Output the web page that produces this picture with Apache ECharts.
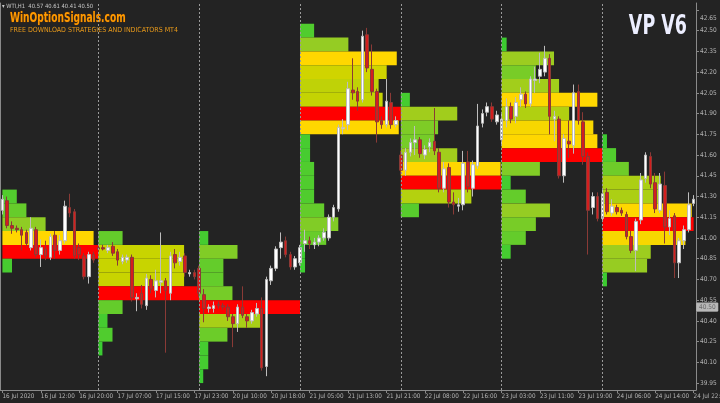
<!DOCTYPE html>
<html>
<head>
<meta charset="utf-8">
<script src="https://cdn.jsdelivr.net/npm/echarts@6/dist/echarts.min.js"></script>
<style>
html,body{margin:0;padding:0;background:#232323;}
#c{width:720px;height:403px;}
</style>
</head>
<body>
<div id="c"></div>
<script>
// ---------- DATA ----------
const xLabels = ['16 Jul 2020','16 Jul 12:00','16 Jul 20:00','17 Jul 07:00','17 Jul 15:00','17 Jul 23:00','20 Jul 10:00','20 Jul 18:00','21 Jul 05:00','21 Jul 13:00','21 Jul 21:00','22 Jul 08:00','22 Jul 16:00','23 Jul 03:00','23 Jul 11:00','23 Jul 19:00','24 Jul 06:00','24 Jul 14:00','24 Jul 22:00'];
const yTicks = [39.95,40.10,40.25,40.40,40.55,40.70,40.85,41.00,41.15,41.30,41.45,41.60,41.75,41.90,42.05,42.20,42.35,42.50,42.65];
const lastPrice = 40.50;
const headerText = 'WTI,H1  40.57 40.61 40.41 40.50';

// candles per day: [open, close, low, high]
const day1Candles = [
 [41.20,41.28,41.17,41.31],[41.27,41.09,41.07,41.30],[41.09,41.07,41.03,41.12],[41.07,41.06,41.04,41.09],
 [41.06,41.02,40.91,41.08],[41.04,40.96,40.94,41.06],[40.93,41.07,40.91,41.15],[41.06,40.88,40.86,41.08],
 [40.88,40.93,40.79,40.99],[40.92,40.87,40.84,40.98],[40.86,41.01,40.84,41.03],[41.02,40.91,40.85,41.05],
 [40.91,40.98,40.88,41.02],[40.98,41.23,40.96,41.27],[41.22,41.18,41.15,41.32],[41.19,40.87,40.85,41.21],
 [40.93,40.88,40.84,40.96],[40.87,40.72,40.70,40.89],[40.72,40.88,40.67,40.90],[40.88,40.84,40.82,40.90]
];
const day2Candles = [
 [40.93,40.92,40.90,40.95],[40.93,40.92,40.91,40.95],[40.91,40.93,40.89,40.95],[40.94,40.89,40.87,40.97],
 [40.90,40.84,40.80,40.92],[40.83,40.86,40.81,40.88],[40.84,40.86,40.82,40.88],[40.86,40.57,40.54,40.88],
 [40.56,40.57,40.47,40.60],[40.60,40.52,40.49,40.66],[40.51,40.71,40.48,40.74],[40.70,40.63,40.60,40.73],
 [40.62,40.69,40.57,40.77],[40.68,40.69,40.60,41.04],[40.69,40.62,40.17,40.71],[40.60,40.87,40.55,40.90],
 [40.88,40.82,40.78,40.92],[40.83,40.86,40.80,40.90],[40.87,40.75,40.72,40.89],[40.74,40.75,40.72,40.77],
 [40.75,40.72,40.70,40.77]
];
const day3Candles = [
 [40.78,40.60,40.57,40.80],[40.59,40.49,40.39,40.63],[40.49,40.50,40.46,40.52],[40.49,40.51,40.46,40.54],
 [40.52,40.51,40.49,40.54],[40.51,40.50,40.48,40.53],[40.50,40.43,40.40,40.52],[40.43,40.38,40.21,40.45],
 [40.38,40.50,40.32,40.52],[40.50,40.44,40.42,40.65],[40.43,40.40,40.35,40.45],[40.40,40.46,40.38,40.48],
 [40.45,40.49,40.43,40.53],[40.49,40.06,40.04,40.57],[40.07,40.70,40.00,40.72],[40.69,40.78,40.66,40.80],
 [40.78,40.92,40.76,40.94],[40.93,40.97,40.85,41.04],[40.98,40.88,40.86,41.01],[40.88,40.79,40.77,40.90],
 [40.79,40.85,40.77,40.87]
];
const day4Candles = [
 [40.82,40.93,40.80,40.95],[40.96,40.98,40.90,41.06],[40.98,40.96,40.92,41.01],[40.95,40.97,40.92,41.00],
 [40.97,41.00,40.94,41.02],[41.00,41.04,40.98,41.07],[41.00,41.15,40.98,41.17],[41.15,41.22,41.12,41.24],
 [41.21,41.80,41.19,41.82],[41.79,41.80,41.75,41.86],[41.82,42.08,41.78,42.13],[42.07,42.05,42.00,42.30],
 [42.06,41.99,41.92,42.09],[42.00,42.46,41.98,42.50],[42.47,42.23,42.20,42.52],[42.22,42.06,42.03,42.40],
 [42.06,41.84,41.69,42.08],[41.85,41.82,41.79,41.88],[41.82,41.99,41.80,42.15],[41.98,41.82,41.79,42.05],
 [41.82,41.85,41.80,41.88]
];
const day5Candles = [
 [41.60,41.49,41.46,41.63],[41.49,41.62,41.45,41.65],[41.62,41.69,41.59,41.72],[41.69,41.71,41.60,41.81],
 [41.71,41.61,41.58,41.73],[41.60,41.64,41.57,41.67],[41.66,41.69,41.62,41.72],[41.70,41.63,41.60,41.94],
 [41.62,41.36,41.33,41.65],[41.36,41.50,41.33,41.55],[41.51,41.26,41.22,41.54],[41.26,41.24,41.17,41.33],
 [41.23,41.24,41.19,41.29],[41.24,41.54,41.20,41.63],[41.55,41.37,41.33,41.63],[41.36,41.53,41.30,41.56],
 [41.52,41.81,41.50,41.97],[41.83,41.90,41.80,41.93],[41.91,41.95,41.88,41.98],[41.95,41.86,41.84,41.98],
 [41.84,41.89,41.82,41.92]
];
const day6Candles = [
 [41.71,41.86,41.68,41.90],[41.85,41.95,41.80,42.01],[41.95,41.86,41.83,41.98],[41.88,41.98,41.83,42.02],
 [42.00,42.04,41.95,42.09],[42.04,41.97,41.94,42.06],[41.97,42.15,41.95,42.17],[42.14,42.15,42.05,42.24],
 [42.17,42.22,42.12,42.34],[42.20,42.30,42.17,42.39],[42.30,41.88,41.75,42.33],[41.86,41.88,41.70,41.92],
 [41.86,41.45,41.43,41.88],[41.45,41.72,41.40,41.75],[41.70,41.68,41.58,41.85],[41.67,42.05,41.61,42.11],
 [42.06,41.85,41.82,42.11],[41.84,41.59,41.53,41.91],[41.59,41.20,40.88,41.62],[41.22,41.30,41.17,41.33],
 [41.30,41.14,41.12,41.33]
];
const day7Candles = [
 [41.14,41.32,41.12,41.35],[41.33,41.19,41.17,41.36],[41.18,41.23,41.16,41.28],[41.22,41.19,41.17,41.24],
 [41.20,41.18,41.16,41.22],[41.17,41.01,40.99,41.19],[41.01,40.91,40.89,41.05],[40.91,41.12,40.76,41.14],
 [41.13,41.42,41.10,41.47],[41.43,41.60,41.40,41.62],[41.59,41.39,41.36,41.62],[41.40,41.21,41.18,41.47],
 [41.20,41.39,41.18,41.47],[41.38,41.08,40.96,41.48],[41.08,41.14,41.02,41.20],[41.16,40.82,40.71,41.18],
 [40.82,40.98,40.71,41.00],[40.98,41.06,40.92,41.09],[41.06,41.24,41.04,41.33],[41.25,41.28,41.23,41.31]
];

// volume profile per day: [price level, volume % of POC]
const day1Profile = [[41.3,15],[41.2,25],[41.1,45],[41.0,95],[40.9,100],[40.8,10]];
const day2Profile = [[41.0,24],[40.9,85],[40.8,85],[40.7,85],[40.6,100],[40.5,24],[40.4,9],[40.3,14],[40.2,4]];
const day3Profile = [[41.0,9],[40.9,38],[40.8,24],[40.7,24],[40.6,33],[40.5,100],[40.4,61],[40.3,28],[40.2,9],[40.1,9],[40.0,4]];
const day4Profile = [[42.5,14],[42.4,48],[42.3,96],[42.2,86],[42.1,78],[42.0,82],[41.9,100],[41.8,98],[41.7,10],[41.6,10],[41.5,14],[41.4,14],[41.3,14],[41.2,24],[41.1,38],[41.0,26],[40.9,5],[40.8,5]];
const day5Profile = [[42.0,9],[41.9,56],[41.8,37],[41.7,33],[41.6,56],[41.5,99],[41.4,100],[41.3,70],[41.2,18]];
const day6Profile = [[42.4,5],[42.3,52],[42.2,34],[42.1,57],[42.0,95],[41.9,67],[41.8,91],[41.7,95],[41.6,100],[41.5,38],[41.4,9],[41.3,24],[41.2,48],[41.1,34],[41.0,24],[40.9,9]];
const day7Profile = [[41.7,5],[41.6,15],[41.5,29],[41.4,64],[41.3,64],[41.2,98],[41.1,100],[41.0,91],[40.9,53],[40.8,49],[40.7,5]];

// bar index where each session starts (plus end of chart)
const dayStarts = [0,20,41,62,83,104,125];
const chartEnd = 145;

// ---------- BUILD ----------
const dayCandles = [day1Candles,day2Candles,day3Candles,day4Candles,day5Candles,day6Candles,day7Candles];
const dayProfiles = [day1Profile,day2Profile,day3Profile,day4Profile,day5Profile,day6Profile,day7Profile];
const candles = [].concat(...dayCandles);
const cats = candles.map((_, i) => String(i));
const rowHalf = 0.05;

const profileData = [];
dayProfiles.forEach((prof, d) => {
  const start = dayStarts[d];
  const end = d + 1 < dayStarts.length ? dayStarts[d + 1] : chartEnd;
  const len = Math.min(end - start, 21) - (d === dayStarts.length - 1 ? 1 : 0);
  prof.forEach(([p, v]) => profileData.push([start, p, len, v]));
});

function hexToRgb(h){return [parseInt(h.substr(1,2),16),parseInt(h.substr(3,2),16),parseInt(h.substr(5,2),16)];}
const stops = [[0,'#33cc33'],[0.5,'#99cc22'],[0.85,'#c8d400'],[0.92,'#ffd700'],[1,'#ffd700']];
function volColor(v){
  if (v >= 100) return '#ff0000';
  const r = v / 100;
  for (let i = 1; i < stops.length; i++) {
    if (r <= stops[i][0]) {
      const t = (r - stops[i-1][0]) / (stops[i][0] - stops[i-1][0]);
      const a = hexToRgb(stops[i-1][1]), b = hexToRgb(stops[i][1]);
      return 'rgb(' + a.map((c, k) => Math.round(c + (b[k] - c) * t)).join(',') + ')';
    }
  }
  return stops[stops.length-1][1];
}

const chart = echarts.init(document.getElementById('c'), null, {renderer:'canvas'});
const axisGray = '#8a8a8a';
const labelGray = '#b4b4b4';
const cond = "'DejaVu Sans Condensed','DejaVu Sans',sans-serif";

chart.setOption({
  animation: false,
  backgroundColor: '#232323',
  title: [
    {text: '\u25BE ' + headerText, left: 2, top: 3, padding: 0,
     textStyle: {color: '#c8c8c8', fontSize: 5.8, fontWeight: 'normal', fontFamily: cond}},
    {text: 'FREE DOWNLOAD STRATEGIES AND INDICATORS MT4', left: 10, top: 27, padding: 0,
     textStyle: {color: '#e99a1a', fontSize: 7, fontWeight: 'normal', fontFamily: cond}}
  ],
  graphic: [
    {type: 'text', x: 10, y: 11, scaleX: 0.72, silent: true,
     style: {text: 'WinOptionSignals.com', fill: '#ff9a00', stroke: '#6a3000', lineWidth: 0.6,
             font: 'bold 14px ' + cond, align: 'left', verticalAlign: 'top'}},
    {type: 'text', x: 687, y: 13, scaleX: 0.72, silent: true,
     style: {text: 'VP V6', fill: '#eceeff', font: 'bold 27px ' + cond, align: 'right', verticalAlign: 'top',
             shadowColor: '#000', shadowBlur: 2, shadowOffsetX: 1, shadowOffsetY: 1}}
  ],
  grid: {left: 0, right: 24, top: 3, bottom: 13, containLabel: false, outerBoundsMode: 'none'},
  xAxis: {
    type: 'category', data: cats, boundaryGap: true,
    axisLine: {show: true, lineStyle: {color: axisGray}},
    axisTick: {show: true, interval: 7, alignWithLabel: true, length: 3, lineStyle: {color: axisGray}},
    axisLabel: {interval: 7, align: 'left', margin: 3, fontSize: 6.3, color: labelGray, fontFamily: cond,
      hideOverlap: false,
      formatter: (v, idx) => (idx % 8 === 0 ? (xLabels[idx / 8] || '') : '')},
    splitLine: {show: false}
  },
  yAxis: [
    {type: 'value', position: 'right', min: 39.90, max: 42.70, scale: true,
     axisLine: {show: true, lineStyle: {color: axisGray}},
     axisTick: {show: true, length: 3, customValues: yTicks, lineStyle: {color: axisGray}},
     axisLabel: {customValues: yTicks, margin: 4, fontSize: 6.5, color: labelGray, fontFamily: cond,
       formatter: v => (v > 42.6 ? '{t|' + v.toFixed(2) + '}' : v.toFixed(2)),
       rich: {t: {padding: [17, 0, 0, 0], fontSize: 6.5, color: labelGray, fontFamily: cond}}},
     splitLine: {show: false}},
    {type: 'value', position: 'left', min: 39.90, max: 42.70,
     axisLine: {show: true, lineStyle: {color: axisGray}},
     axisTick: {show: false}, axisLabel: {show: false}, splitLine: {show: false}}
  ],
  series: [
    {
      type: 'custom', name: 'profile', clip: true, z: 1,
      encode: {x: 0, y: 1},
      data: profileData,
      renderItem: (params, api) => {
        const start = api.value(0), price = api.value(1), len = api.value(2), vol = api.value(3);
        const top = api.coord([start, price + rowHalf]);
        const bot = api.coord([start, price - rowHalf]);
        const band = api.size([1, 0])[0];
        return {
          type: 'rect',
          shape: {x: top[0], y: top[1], width: band * len * vol / 100, height: bot[1] - top[1]},
          style: {fill: volColor(vol)}
        };
      },
      markLine: {
        silent: true, symbol: ['none', 'none'], label: {show: false},
        lineStyle: {color: '#9a9a9a', type: [2, 2], width: 1},
        data: dayStarts.slice(1).map(i => ({xAxis: i}))
      }
    },
    {
      type: 'candlestick', name: 'WTI', z: 3,
      data: candles,
      barWidth: 3,
      itemStyle: {color: '#ffffff', color0: '#d41e1e', borderColor: '#bdbdbd', borderColor0: '#8a3a36', borderWidth: 1},
      markLine: {
        silent: true, symbol: ['none', 'none'],
        lineStyle: {color: 'rgba(0,0,0,0)', width: 0},
        label: {show: true, position: 'end', distance: 1, formatter: () => lastPrice.toFixed(2),
                backgroundColor: '#b8b8b8', color: '#6a6a6a', fontSize: 6.5, padding: [1, 2, 0, 2],
                borderColor: '#d0d0d0', borderWidth: 0.5, fontFamily: cond},
        data: [{yAxis: lastPrice}]
      }
    }
  ]
});
</script>
</body>
</html>
